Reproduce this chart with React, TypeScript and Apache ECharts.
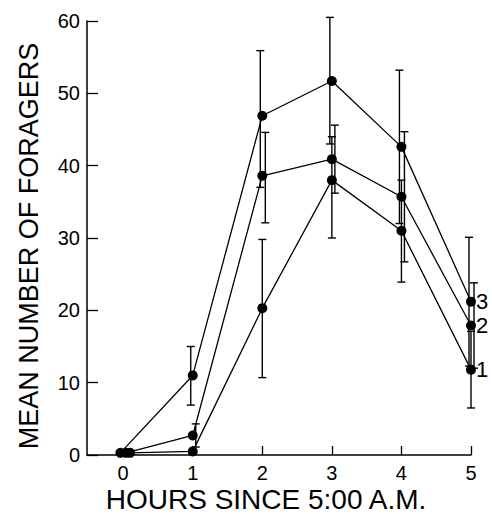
import React, { useEffect, useRef } from "react";
import * as echarts from "echarts";

// ---- data ----
const hourTicks = [0, 1, 2, 3, 4, 5];
const yTicks = [0, 10, 20, 30, 40, 50, 60];

// x positions (the three points at hour 0 are drawn slightly apart)
const s1Hours = [0.1, 1, 2, 3, 4, 5];
const s2Hours = [0.04, 1, 2, 3, 4, 5];
const s3Hours = [-0.04, 1, 2, 3, 4, 5];

const s1Mean = [0.3, 0.5, 20.3, 38.0, 31.0, 11.8];
const s2Mean = [0.3, 2.7, 38.6, 40.9, 35.7, 17.9];
const s3Mean = [0.3, 11.0, 46.9, 51.7, 42.6, 21.2];

const s1Low: (number | null)[] = [null, null, 10.7, 30.0, 23.9, 6.5];
const s1High: (number | null)[] = [null, null, 29.8, 44.0, 38.0, 17.1];
const s2Low: (number | null)[] = [null, 1.1, 32.1, 36.2, 26.7, 12.0];
const s2High: (number | null)[] = [null, 4.3, 44.6, 45.6, 44.7, 23.8];
const s3Low: (number | null)[] = [null, 6.9, 37.0, 43.0, 32.0, 12.3];
const s3High: (number | null)[] = [null, 15.0, 55.9, 60.5, 53.2, 30.1];

const seriesLabels = ["1", "2", "3"];
const xTitle = "HOURS SINCE 5:00 A.M.";
const yTitle = "MEAN NUMBER OF FORAGERS";

const FONT = "Liberation Sans";

function pairs(xs: number[], ys: number[]) {
  return xs.map((x, i) => [x, ys[i]]);
}
function errData(xs: number[], lo: (number | null)[], hi: (number | null)[]) {
  const out: number[][] = [];
  xs.forEach((x, i) => {
    if (lo[i] != null && hi[i] != null) out.push([x, lo[i] as number, hi[i] as number]);
  });
  return out;
}

function errorSeries(data: number[][], dx: number) {
  return {
    type: "custom",
    data,
    z: 1,
    renderItem: (params: any, api: any) => {
      const x = api.value(0);
      const lo = api.coord([x, api.value(1)]);
      const hi = api.coord([x, api.value(2)]);
      const cx = lo[0] + dx;
      const w = 4;
      const style = { stroke: "#000", lineWidth: 1.4 };
      return {
        type: "group",
        children: [
          { type: "line", shape: { x1: cx, y1: lo[1], x2: cx, y2: hi[1] }, style },
          { type: "line", shape: { x1: cx - w, y1: lo[1], x2: cx + w, y2: lo[1] }, style },
          { type: "line", shape: { x1: cx - w, y1: hi[1], x2: cx + w, y2: hi[1] }, style },
        ],
      };
    },
  };
}

function lineSeries(xs: number[], ys: number[], label: string) {
  return {
    type: "line",
    data: pairs(xs, ys),
    z: 3,
    symbol: "circle",
    symbolSize: 10,
    itemStyle: { color: "#000" },
    lineStyle: { color: "#000", width: 1.3 },
    label: { show: false },
    endLabel: {
      show: true,
      formatter: label,
      color: "#000",
      fontFamily: FONT,
      fontSize: 22,
      distance: 5,
    },
  };
}

export default function App() {
  const ref = useRef<HTMLDivElement>(null);
  useEffect(() => {
    if (!ref.current) return;
    const chart = echarts.init(ref.current, undefined, { renderer: "svg" });
    chart.setOption({
      animation: false,
      backgroundColor: "#fff",
      grid: { left: 87, right: 21, top: 21, bottom: 59, containLabel: false },
      graphic: [
        {
          type: "text",
          x: 266,
          y: 499,
          style: {
            text: xTitle,
            fontFamily: FONT,
            fontSize: 28,
            fill: "#000",
            textAlign: "center",
            textVerticalAlign: "middle",
          },
        },
        {
          type: "text",
          x: 29,
          y: 246,
          rotation: Math.PI / 2,
          style: {
            text: yTitle,
            fontFamily: FONT,
            fontSize: 27,
            fill: "#000",
            textAlign: "center",
            textVerticalAlign: "middle",
          },
        },
      ],
      xAxis: {
        type: "value",
        min: -0.52,
        max: 5,
        axisLine: { show: true, onZero: false, lineStyle: { color: "#000", width: 1.5 } },
        axisTick: {
          show: true,
          inside: true,
          length: 9,
          customValues: hourTicks.slice(1),
          lineStyle: { color: "#000", width: 1.3 },
        },
        axisLabel: {
          customValues: hourTicks,
          fontFamily: FONT,
          fontSize: 20,
          color: "#000",
          margin: 8,
        },
        splitLine: { show: false },
      },
      yAxis: {
        type: "value",
        min: 0,
        max: 60,
        interval: 10,
        axisLine: { show: true, onZero: false, lineStyle: { color: "#000", width: 1.5 } },
        axisTick: { show: true, inside: true, length: 11, lineStyle: { color: "#000", width: 1.3 } },
        axisLabel: {
          fontFamily: FONT,
          fontSize: 20,
          color: "#000",
          margin: 7,
          formatter: (v: number) => (yTicks.includes(v) ? String(v) : ""),
        },
        splitLine: { show: false },
      },
      series: [
        errorSeries(errData(s1Hours, s1Low, s1High), 0),
        errorSeries(errData(s2Hours, s2Low, s2High), 3),
        errorSeries(errData(s3Hours, s3Low, s3High), -2),
        lineSeries(s1Hours, s1Mean, seriesLabels[0]),
        lineSeries(s2Hours, s2Mean, seriesLabels[1]),
        lineSeries(s3Hours, s3Mean, seriesLabels[2]),
      ],
    });
    return () => chart.dispose();
  }, []);
  return <div ref={ref} style={{ width: 492, height: 514, position: "absolute", left: 0, top: 0 }} />;
}
